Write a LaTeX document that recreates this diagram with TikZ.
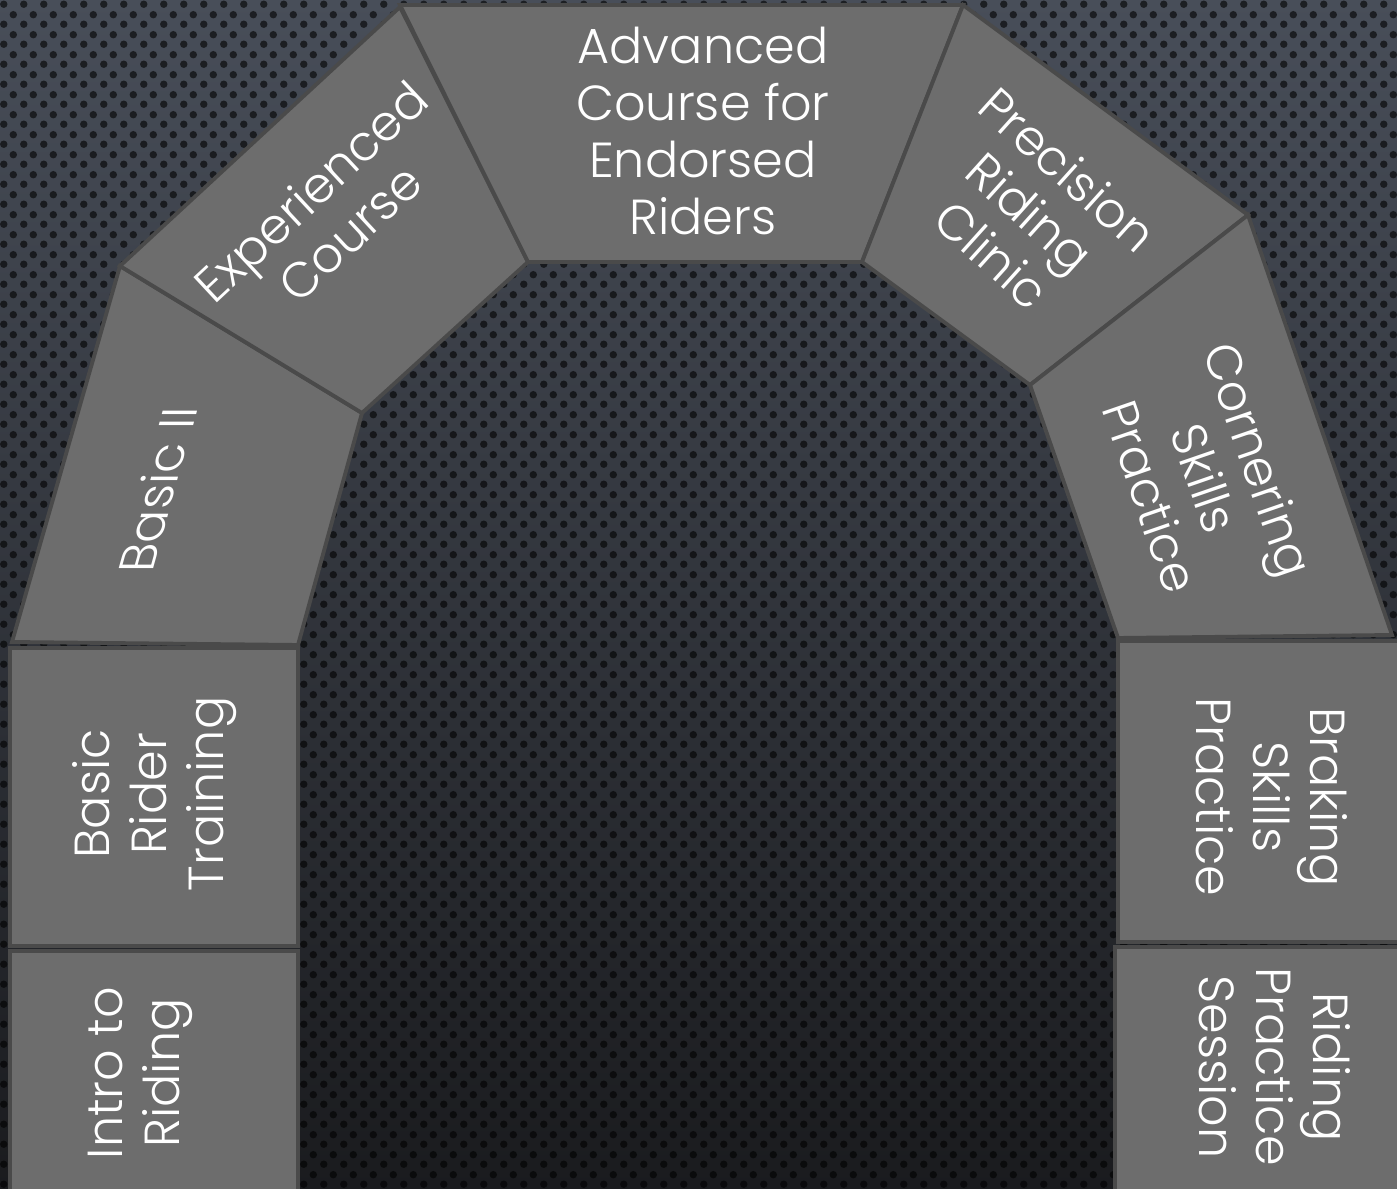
\documentclass[tikz,border=0pt]{standalone}
\usepackage{fontspec}
\setmainfont{Poppins}[UprightFont={* Light}]
\usepackage{tikz}
\usetikzlibrary{patterns}
\definecolor{BgTop}{HTML}{484E59}
\definecolor{BgMid}{HTML}{2F3239}
\definecolor{BgBot}{HTML}{1A1B1E}
\definecolor{SegGray}{HTML}{6D6D6D}
\definecolor{SegEdge}{HTML}{4A4A4A}
\pgfdeclarepatternformonly{carbondots}{\pgfpointorigin}{\pgfpoint{0.2cm}{0.2cm}}{\pgfpoint{0.2cm}{0.2cm}}{%
  \pgfpathcircle{\pgfpoint{0.05cm}{0.05cm}}{0.039cm}%
  \pgfpathcircle{\pgfpoint{0.15cm}{0.15cm}}{0.039cm}%
  \pgfusepath{fill}}

\begin{document}
\begin{tikzpicture}[x=0.01cm, y=-0.01cm,
          seg/.style={fill=SegGray, draw=SegEdge, line width=1.1pt, line join=miter},
          lbl/.style={text=white, align=center, inner sep=0pt,
                      font=\fontsize{14}{16.2}\selectfont}
        ]
        \useasboundingbox (0,0) rectangle (1397,1189);
        \shade[top color=BgTop, middle color=BgMid, bottom color=BgBot] (0,0) rectangle (1397,1189);
        \fill[pattern=carbondots, pattern color=black, opacity=0.6] (0,0) rectangle (1397,1189);

        \filldraw[seg] (10,951) -- (298,951) -- (298,1196) -- (10,1196) -- cycle;
        \filldraw[seg] (10,648) -- (298,648) -- (298,946) -- (10,946) -- cycle;
        \filldraw[seg] (120,266) -- (362,413) -- (298,645) -- (12,642) -- cycle;
        \filldraw[seg] (400,7) -- (528,262) -- (362,413) -- (120,266) -- cycle;
        \filldraw[seg] (400,5) -- (963,5) -- (862,262) -- (528,262) -- cycle;
        \filldraw[seg] (963,5) -- (1248,215) -- (1030,385) -- (862,262) -- cycle;
        \filldraw[seg] (1248,215) -- (1392,635) -- (1118,638) -- (1030,385) -- cycle;
        \filldraw[seg] (1118,641) -- (1404,641) -- (1404,942) -- (1118,942) -- cycle;
        \filldraw[seg] (1115,947) -- (1404,947) -- (1404,1196) -- (1115,1196) -- cycle;

        \node[lbl, rotate=90] (intro)  at (140,1073) {Intro to\\Riding};
        \node[lbl, rotate=90] (brt)    at (155,794)  {Basic\\Rider\\Training};
        \node[lbl, xslant=0.28, rotate=90] (basic2) at (157,490) {Basic II};
        \node[lbl, rotate=43] (exp)    at (330,212)  {Experienced\\Course};
        \node[lbl]            (adv)    at (703,131)  {Advanced\\Course for\\Endorsed\\Riders};
        \node[lbl, rotate=-42] (prec)  at (1030,212) {Precision\\Riding\\Clinic};
        \node[lbl, rotate=-71] (corn)  at (1205,478) {Cornering\\Skills\\Practice};
        \node[lbl, rotate=-90] (brake) at (1272,797) {Braking\\Skills\\Practice};
        \node[lbl, rotate=-90] (rps)   at (1275,1067) {Riding\\Practice\\Session};
      \end{tikzpicture}
\end{document}
